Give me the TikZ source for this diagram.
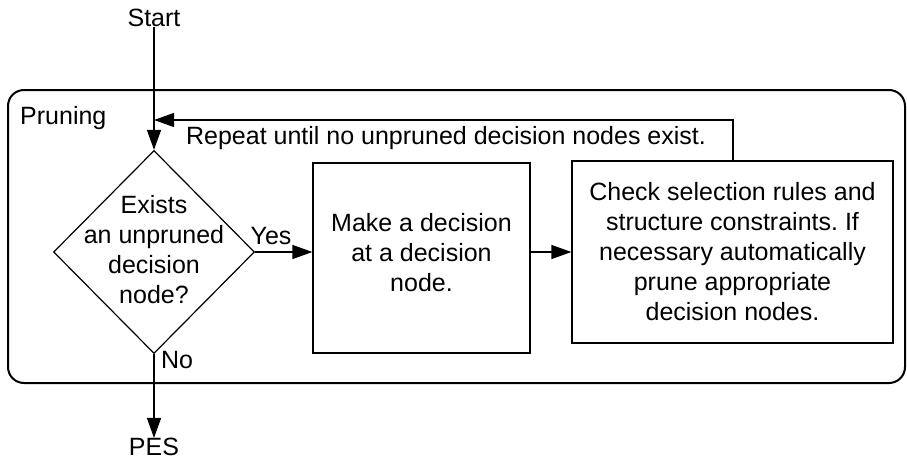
\documentclass[tikz,border=0pt]{standalone}
\usepackage{fontspec}
\setmainfont{Liberation Sans}
\usetikzlibrary{shapes.geometric,arrows.meta}
\frenchspacing
\tikzset{
  lbl/.style={font=\fontsize{25}{30}\selectfont, inner sep=0pt, align=center},
  box/.style={draw, line width=1.2pt, align=center, font=\fontsize{25}{30}\selectfont, inner sep=0pt},
  arr/.style={line width=1.2pt, -{Triangle[length=20pt,width=14pt]}}
}
\begin{document}
\begin{tikzpicture}[x=1pt,y=-1pt]
\useasboundingbox (0,0) rectangle (907,460);
% outer rounded frame
\draw[line width=2pt, rounded corners=16pt] (8,90) rectangle (905,383);
\node[lbl, anchor=west] (prun) at (20,118) {Pruning};
\node[lbl] (start) at (154,18) {Start};
\node[draw, line width=1.2pt, diamond, minimum width=201pt, minimum height=203pt, inner sep=0pt] (dia) at (154,252) {};
\node[lbl] (diatext) at (154,250) {Exists\\an unpruned\\decision\\node?};
\node[box, minimum width=217pt, minimum height=190pt] (make) at (421.5,258) {};
\node[lbl] (maketext) at (421.5,253) {Make a decision\\at a decision\\node.};
\node[box, minimum width=321pt, minimum height=182pt] (check) at (732.5,252) {Check selection rules and\\structure constraints. If\\necessary automatically\\prune appropriate\\decision nodes.};
\node[lbl] (pes) at (154,447) {PES};
\node[lbl] (yes) at (271,236) {Yes};
\node[lbl] (no) at (177,360) {No};
\node[lbl] (rep) at (446,138) {Repeat until no unpruned decision nodes exist.};
\coordinate (fbtop) at (733,120);
\coordinate (join) at (154,120);
\draw[arr] (start.south) -- (dia.north);
\draw[arr] (check.north -| fbtop) -- (fbtop) -- (join);
\draw[arr] (dia.east) -- (make.west |- dia.east);
\draw[arr] (make.east |- check.west) -- (check.west);
\draw[arr] (dia.south) -- (pes.north);
\end{tikzpicture}
\end{document}
